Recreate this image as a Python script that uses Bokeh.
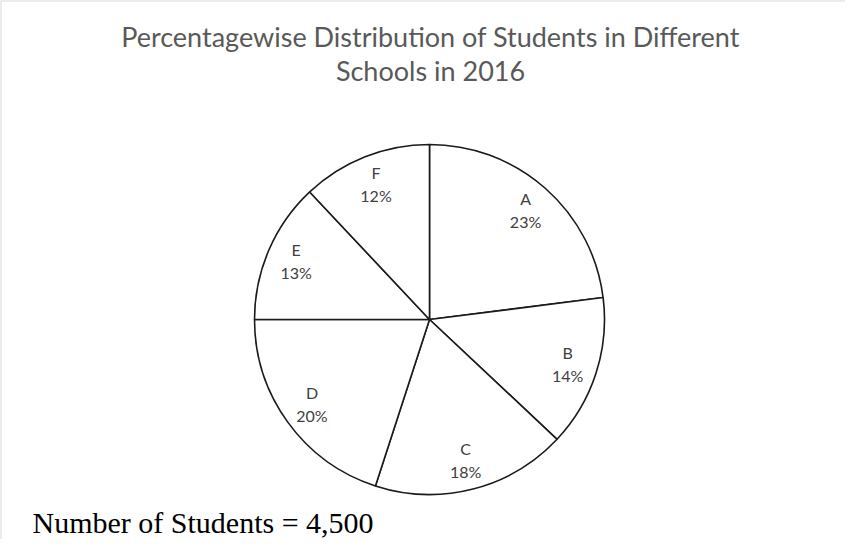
import numpy as np
from bokeh.plotting import figure
from bokeh.models import ColumnDataSource, Label, Span, Range1d
from bokeh.core.properties import value
from bokeh.embed import file_html
from bokeh.resources import INLINE

# Data
schools = ["A", "B", "C", "D", "E", "F"]
percents = [23, 14, 18, 20, 13, 12]
title_lines = ["Percentagewise Distribution of Students in Different", "Schools in 2016"]
note = "Number of Students = 4,500"

W, H = 845, 539
R = 175.0            # pie radius in px
cx, cy = 429.0, 319.0  # pie center in frame px (from left, from top)

p = figure(width=W, height=H, output_backend="svg", toolbar_location=None,
           x_range=Range1d(-cx / R, (W - cx) / R), y_range=Range1d(-(H - cy) / R, cy / R),
           min_border=0)
p.axis.visible = False
p.grid.visible = False
p.outline_line_color = None
p.background_fill_color = "white"
p.border_fill_color = "white"

# wedges, clockwise from 12 o'clock
vals = np.array(percents, dtype=float)
cum = np.concatenate([[0], np.cumsum(vals)]) / vals.sum()
start = np.pi / 2 - cum[:-1] * 2 * np.pi
end = np.pi / 2 - cum[1:] * 2 * np.pi
mid = (start + end) / 2
src = ColumnDataSource(dict(
    start=start, end=end, name=schools, pct=[f"{v}%" for v in percents],
    lx=0.83 * np.cos(mid), ly=0.83 * np.sin(mid)))

p.wedge(x=0, y=0, radius=1, start_angle="end", end_angle="start", source=src,
        fill_color="white", line_color="#1a1a1a", line_width=1.6)

p.text(x="lx", y="ly", text="name", source=src, y_offset=-12,
       text_font=value("Lato"), text_font_size="16px", text_color="#404040",
       text_align="center", text_baseline="middle")
p.text(x="lx", y="ly", text="pct", source=src, y_offset=11,
       text_font=value("Lato"), text_font_size="16px", text_color="#404040",
       text_align="center", text_baseline="middle")

for t, yy in zip(title_lines, [503, 469]):
    p.add_layout(Label(x=430, y=yy, x_units="screen", y_units="screen", text=t,
                       text_font="Lato", text_font_size="27px", text_color="#595959",
                       text_align="center", text_baseline="middle"))

p.add_layout(Label(x=32, y=17, x_units="screen", y_units="screen", text=note,
                   text_font="Liberation Serif", text_font_size="30px", text_color="black",
                   text_align="left", text_baseline="middle"))

p.add_layout(Span(location=p.x_range.start, dimension="height", line_color="#d9d9d9", line_width=2))
p.add_layout(Span(location=p.y_range.end, dimension="width", line_color="#d9d9d9", line_width=2))

open("out.html", "w").write(file_html(p, INLINE))
